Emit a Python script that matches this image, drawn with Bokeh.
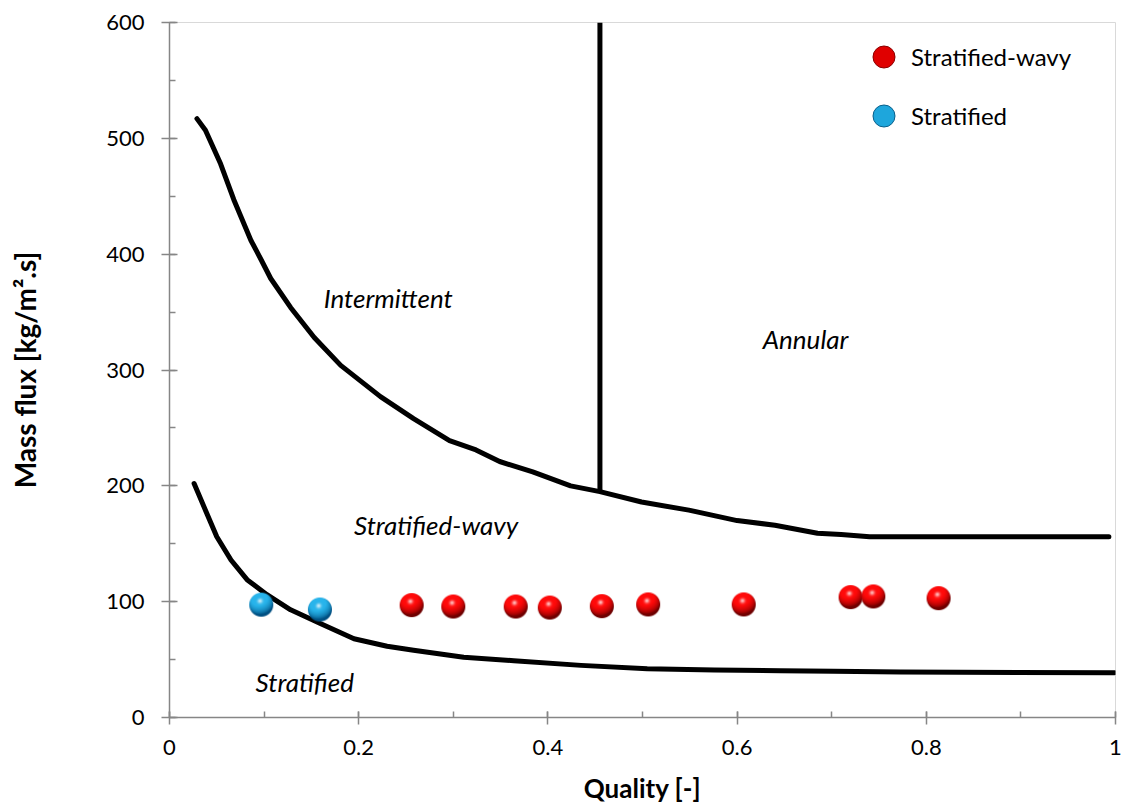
import base64, struct, zlib
import numpy as np
from bokeh.plotting import figure
from bokeh.models import (Range1d, SingleIntervalTicker, CustomJSTickFormatter, Label,
                          Legend, LegendItem, ColumnDataSource)
from bokeh.embed import file_html
from bokeh.resources import INLINE

# ---------------- data ----------------
upper_x = [0.029, 0.038, 0.054, 0.068, 0.086, 0.097, 0.107, 0.128, 0.153, 0.181, 0.223, 0.258, 0.296,
           0.324, 0.349, 0.384, 0.424, 0.455, 0.499, 0.549, 0.600, 0.640, 0.685, 0.710, 0.740, 0.993]
upper_y = [517, 507, 478, 447, 412, 395, 379, 354, 328, 304, 277, 258, 239,
           231, 221, 212, 200, 195, 186, 179, 170, 166, 159, 158, 156, 156]

lower_x = [0.026, 0.038, 0.050, 0.065, 0.082, 0.103, 0.128, 0.160, 0.195, 0.230, 0.258, 0.311,
           0.364, 0.435, 0.505, 0.576, 0.646, 0.702, 0.773, 0.999]
lower_y = [202, 179, 156, 136, 119, 106, 93, 81, 68, 61.5, 58, 52,
           49, 45, 42, 41, 40.3, 40.0, 39.2, 38.7]

annular_x = [0.455, 0.455]
annular_y = [195, 600]

wavy_x = [0.256, 0.300, 0.366, 0.402, 0.457, 0.506, 0.607, 0.720, 0.744, 0.813]
wavy_y = [97.0, 95.8, 95.8, 94.9, 96.1, 97.6, 97.6, 103.9, 104.5, 103.0]

strat_x = [0.097, 0.159]
strat_y = [97.4, 93.2]

regions = ["Intermittent", "Annular", "Stratified-wavy", "Stratified"]
region_x = [0.163, 0.627, 0.195, 0.091]
region_y = [362, 327, 166, 30.5]

x_ticks_interval = 0.2
y_ticks_interval = 100


# ---------------- sphere images ----------------
def sphere_png(base, dark, n=48):
    yy, xx = np.mgrid[0:n, 0:n].astype(float)
    u = (xx + 0.5 - n / 2) / (n / 2)
    v = (yy + 0.5 - n / 2) / (n / 2)
    r = np.sqrt(u * u + v * v)
    z = np.sqrt(np.clip(1 - r * r, 0, 1))
    L = np.array([-0.2, -0.6, 0.78])
    L = L / np.linalg.norm(L)
    d = np.clip(u * L[0] + v * L[1] + z * L[2], 0, 1)
    H = L + np.array([0, 0, 1.0])
    H = H / np.linalg.norm(H)
    s = np.clip(u * H[0] + v * H[1] + z * H[2], 0, 1) ** 45 * 0.75
    base = np.array(base, float)
    dark = np.array(dark, float)
    t = np.clip(d, 0, 1)[..., None] ** 0.8
    col = dark + (base - dark) * np.clip(t * 1.25, 0, 1)
    col = col + s[..., None] * (255 - col)
    a = np.clip((1 - r) * n / 2 + 0.5, 0, 1) * 255
    arr = np.dstack([np.clip(col, 0, 255), a]).astype(np.uint8)
    h, w = arr.shape[:2]
    raw = b"".join(b"\x00" + arr[i].tobytes() for i in range(h))

    def chunk(tag, data):
        return (struct.pack(">I", len(data)) + tag + data +
                struct.pack(">I", zlib.crc32(tag + data) & 0xffffffff))

    png = (b"\x89PNG\r\n\x1a\n" +
           chunk(b"IHDR", struct.pack(">IIBBBBB", w, h, 8, 6, 0, 0, 0)) +
           chunk(b"IDAT", zlib.compress(raw, 9)) + chunk(b"IEND", b""))
    return "data:image/png;base64," + base64.b64encode(png).decode()


red_url = sphere_png((255, 10, 10), (110, 0, 0))
blue_url = sphere_png((40, 180, 235), (0, 80, 130))

# ---------------- figure ----------------
p = figure(width=1123, height=807, x_range=Range1d(0, 1), y_range=Range1d(0, 600),
           output_backend="svg", toolbar_location=None,
           min_border_left=169, min_border_right=8, min_border_top=22, min_border_bottom=90)
p.xgrid.visible = False
p.ygrid.visible = False
p.background_fill_color = "white"
p.border_fill_color = "white"
p.outline_line_color = "#d9d9d9"
p.outline_line_width = 1

axis_col = "#868686"
for ax in (p.xaxis[0], p.yaxis[0]):
    ax.axis_line_color = axis_col
    ax.axis_line_width = 1.5
    ax.major_tick_line_color = axis_col
    ax.minor_tick_line_color = axis_col
    ax.major_tick_line_width = 1.5
    ax.minor_tick_line_width = 1.5
    ax.major_label_text_font = "Lato"
    ax.major_label_text_font_size = "22px"
    ax.major_label_text_color = "black"
    ax.axis_label_text_font = "Lato"
    ax.axis_label_text_font_style = "bold"
    ax.axis_label_text_font_size = "26px"
    ax.axis_label_text_color = "black"

xa = p.xaxis[0]
xa.ticker = SingleIntervalTicker(interval=x_ticks_interval, num_minor_ticks=2)
xa.formatter = CustomJSTickFormatter(code="return String(Math.round(tick*10)/10)")
xa.major_tick_in = 6
xa.major_tick_out = 7
xa.minor_tick_in = 6
xa.minor_tick_out = 0
xa.major_label_standoff = 15
xa.axis_label = "Quality [-]"
xa.axis_label_standoff = 14

ya = p.yaxis[0]
ya.ticker = SingleIntervalTicker(interval=y_ticks_interval, num_minor_ticks=2)
ya.major_tick_in = 8
ya.major_tick_out = 8
ya.minor_tick_in = 6
ya.minor_tick_out = 0
ya.major_label_standoff = 17
ya.axis_label = "Mass flux [kg/m\u00b2.s]"
ya.axis_label_text_font_size = "28px"
ya.axis_label_standoff = 61

# boundary curves
p.line(upper_x, upper_y, line_color="black", line_width=5, line_join="round", line_cap="round")
p.line(lower_x, lower_y, line_color="black", line_width=5, line_join="round", line_cap="round")
p.line(annular_x, annular_y, line_color="black", line_width=5)

# points
src_w = ColumnDataSource(dict(x=wavy_x, y=wavy_y, url=[red_url] * len(wavy_x)))
src_s = ColumnDataSource(dict(x=strat_x, y=strat_y, url=[blue_url] * len(strat_x)))
r_w = p.scatter("x", "y", source=src_w, size=21, fill_color="#e00000", line_color="#8a0000", line_width=1)
r_s = p.scatter("x", "y", source=src_s, size=21, fill_color="#1ea6dc", line_color="#0a5f8a", line_width=1)
p.image_url(url="url", x="x", y="y", w=24, h=24, w_units="screen", h_units="screen",
            anchor="center", source=src_w)
p.image_url(url="url", x="x", y="y", w=24, h=24, w_units="screen", h_units="screen",
            anchor="center", source=src_s)

# region labels
for t, x, y in zip(regions, region_x, region_y):
    p.add_layout(Label(x=x, y=y, text=t, text_font="Lato", text_font_style="italic",
                       text_font_size="26px", text_color="black", text_baseline="middle",
                       text_align="left"))

legend = Legend(items=[LegendItem(label="Stratified-wavy", renderers=[r_w]),
                       LegendItem(label="Stratified", renderers=[r_s])],
                location=(687, 574), glyph_width=55, glyph_height=55, spacing=4,
                padding=0, margin=0, border_line_alpha=0, background_fill_alpha=0,
                label_text_font="Lato", label_text_font_size="24px", label_standoff=0,
                label_text_color="black")
p.add_layout(legend)

open("out.html", "w").write(file_html(p, INLINE))
